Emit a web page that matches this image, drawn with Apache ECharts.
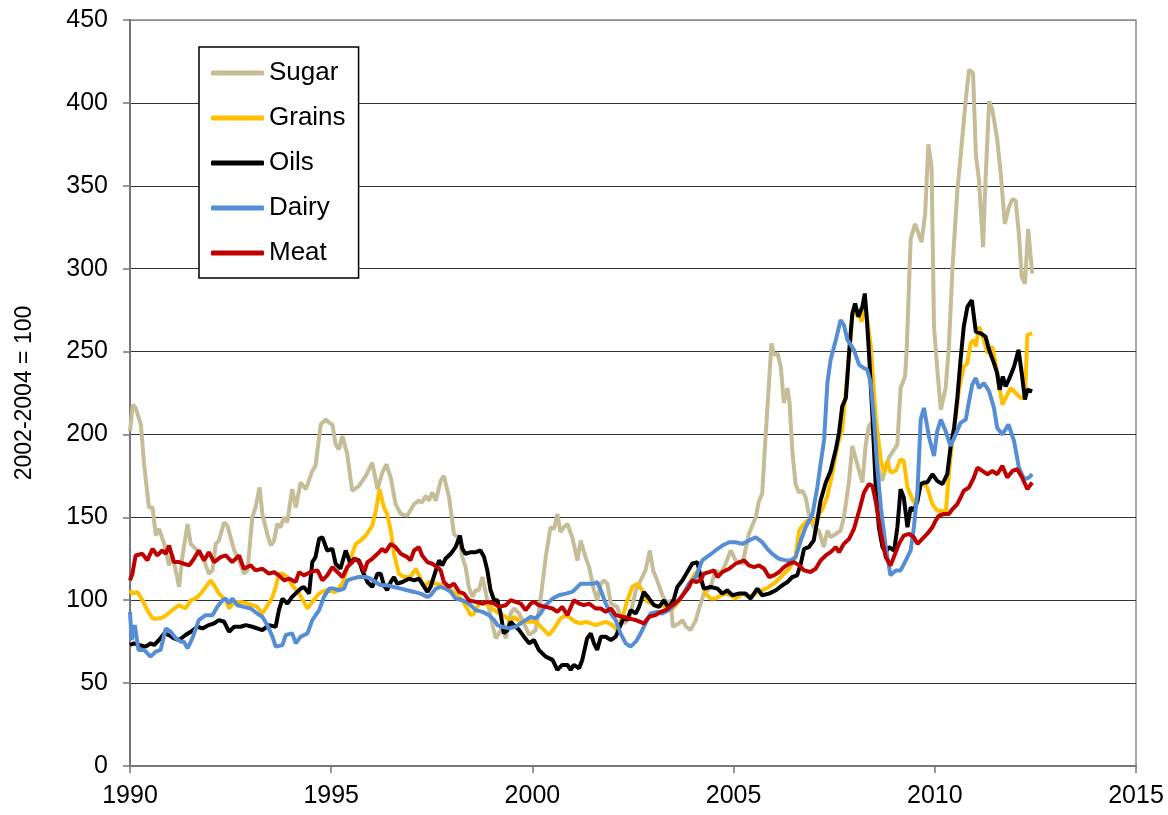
<!DOCTYPE html>
<html>
<head>
<meta charset="utf-8">
<script src="https://cdn.jsdelivr.net/npm/echarts@6/dist/echarts.min.js"></script>
<style>
  html, body { margin: 0; padding: 0; background: #fff; }
  #chart { width: 1168px; height: 815px; }
</style>
</head>
<body>
<div id="chart"></div>
<script>
// FAO commodity price indices, 2002-2004 = 100 ([year, index])
var names = ['Sugar', 'Grains', 'Oils', 'Dairy', 'Meat']
var colors = ['#C4BD97', '#FFC000', '#000000', '#558ED5', '#C00000']

var sugar = [
    [1990.0,202],[1990.07,218],[1990.14,216],[1990.27,206],[1990.35,182],[1990.47,156],[1990.56,156],[1990.64,139],
    [1990.72,143],[1990.85,134],[1990.97,121],[1991.05,128],[1991.22,108],[1991.30,126],[1991.43,146],[1991.51,134],
    [1991.71,129],[1991.84,124],[1991.96,116],[1992.05,118],[1992.13,134],[1992.21,136],[1992.34,147],[1992.42,145],
    [1992.59,130],[1992.71,124],[1992.83,116],[1992.92,118],[1993.04,150],[1993.12,156],[1993.22,168],[1993.29,152],
    [1993.41,140],[1993.50,133],[1993.58,136],[1993.66,146],[1993.74,144],[1993.83,150],[1993.91,147],[1994.03,167],
    [1994.12,156],[1994.24,171],[1994.37,167],[1994.53,178],[1994.61,181],[1994.74,206],[1994.86,209],[1994.95,207],
    [1995.03,206],[1995.11,194],[1995.19,191],[1995.28,199],[1995.40,188],[1995.52,166],[1995.69,169],[1995.86,175],
    [1996.02,183],[1996.15,167],[1996.27,177],[1996.37,182],[1996.48,174],[1996.60,158],[1996.73,152],[1996.89,151],
    [1997.06,158],[1997.18,160],[1997.26,159],[1997.35,163],[1997.43,160],[1997.51,165],[1997.60,160],[1997.72,172],
    [1997.80,175],[1997.93,162],[1998.05,140],[1998.18,137],[1998.26,126],[1998.34,120],[1998.42,108],[1998.51,102],
    [1998.59,106],[1998.67,106],[1998.76,114],[1998.88,100],[1999.00,86],[1999.09,77],[1999.17,80],[1999.25,84],
    [1999.34,77],[1999.46,92],[1999.54,95],[1999.67,92],[1999.79,86],[1999.92,79],[2000.08,82],[2000.20,100],
    [2000.33,126],[2000.45,144],[2000.54,143],[2000.62,152],[2000.70,141],[2000.78,144],[2000.87,146],[2000.99,138],
    [2001.12,124],[2001.20,136],[2001.32,126],[2001.41,120],[2001.53,106],[2001.61,100],[2001.70,110],[2001.78,112],
    [2001.86,110],[2001.95,98],[2002.03,97],[2002.11,96],[2002.19,90],[2002.28,86],[2002.36,88],[2002.44,92],
    [2002.57,106],[2002.69,112],[2002.81,118],[2002.92,130],[2003.00,118],[2003.10,112],[2003.23,103],[2003.35,98],
    [2003.44,100],[2003.49,84],[2003.64,86],[2003.73,88],[2003.82,84],[2003.93,82],[2004.06,88],[2004.18,98],
    [2004.26,104],[2004.43,108],[2004.55,118],[2004.68,116],[2004.80,122],[2004.93,130],[2005.05,124],[2005.22,122],
    [2005.38,140],[2005.55,150],[2005.63,160],[2005.71,164],[2005.80,201],[2005.88,231],[2005.94,255],[2006.00,248],
    [2006.09,249],[2006.17,241],[2006.25,219],[2006.34,228],[2006.39,219],[2006.46,190],[2006.54,170],[2006.62,165],
    [2006.71,166],[2006.79,162],[2006.87,152],[2006.99,144],[2007.12,142],[2007.24,132],[2007.33,142],[2007.41,138],
    [2007.54,140],[2007.66,142],[2007.74,150],[2007.87,172],[2007.95,193],[2008.03,186],[2008.12,178],[2008.20,171],
    [2008.28,193],[2008.36,205],[2008.43,207],[2008.49,195],[2008.61,178],[2008.69,172],[2008.78,180],[2008.86,186],
    [2008.94,189],[2009.07,194],[2009.15,228],[2009.26,235],[2009.30,250],[2009.40,318],[2009.51,327],[2009.67,316],
    [2009.76,333],[2009.84,375],[2009.92,361],[2009.98,265],[2010.06,240],[2010.15,215],[2010.27,228],[2010.35,253],
    [2010.44,301],[2010.56,347],[2010.68,378],[2010.77,402],[2010.85,420],[2010.95,418],[2011.02,369],[2011.10,353],
    [2011.20,313],[2011.26,353],[2011.35,401],[2011.43,396],[2011.55,378],[2011.64,357],[2011.74,327],[2011.84,337],
    [2011.93,342],[2012.01,341],[2012.09,321],[2012.16,295],[2012.24,291],[2012.32,324],[2012.42,297]
]

var grains = [
    [1990.0,106],[1990.06,104],[1990.18,105],[1990.31,100],[1990.43,94],[1990.56,89],[1990.72,89],[1990.85,90],
    [1991.05,94],[1991.22,97],[1991.38,95],[1991.51,100],[1991.63,101],[1991.76,104],[1991.88,108],[1992.01,112],
    [1992.09,109],[1992.21,104],[1992.38,100],[1992.46,95],[1992.59,99],[1992.75,99],[1992.92,98],[1993.04,97],
    [1993.16,96],[1993.29,92],[1993.37,95],[1993.54,102],[1993.62,108],[1993.70,116],[1993.79,116],[1993.91,114],
    [1994.03,109],[1994.20,104],[1994.32,99],[1994.41,95],[1994.53,99],[1994.70,104],[1994.86,106],[1995.11,105],
    [1995.28,110],[1995.44,122],[1995.61,134],[1995.73,136],[1995.86,139],[1996.02,145],[1996.11,154],[1996.20,167],
    [1996.31,156],[1996.39,152],[1996.48,142],[1996.56,128],[1996.68,116],[1996.81,114],[1996.97,114],[1997.10,119],
    [1997.18,115],[1997.31,108],[1997.43,111],[1997.60,110],[1997.76,109],[1997.93,107],[1998.09,104],[1998.26,100],
    [1998.38,95],[1998.47,91],[1998.55,92],[1998.67,98],[1998.84,98],[1999.00,95],[1999.17,92],[1999.34,90],
    [1999.46,87],[1999.54,90],[1999.71,87],[1999.87,87],[2000.08,87],[2000.25,83],[2000.41,79],[2000.54,83],
    [2000.70,89],[2000.83,91],[2000.95,89],[2001.07,87],[2001.20,86],[2001.32,87],[2001.45,86],[2001.57,85],
    [2001.70,86],[2001.82,87],[2001.99,85],[2002.11,82],[2002.24,90],[2002.36,100],[2002.48,108],[2002.61,110],
    [2002.73,106],[2002.86,99],[2002.98,98],[2003.10,96],[2003.23,97],[2003.35,95],[2003.48,95],[2003.60,98],
    [2003.73,103],[2003.85,108],[2003.97,113],[2004.06,117],[2004.14,114],[2004.22,110],[2004.30,104],[2004.43,101],
    [2004.55,101],[2004.68,103],[2004.80,104],[2004.93,103],[2005.05,101],[2005.22,104],[2005.38,102],[2005.55,104],
    [2005.71,106],[2005.88,108],[2006.05,111],[2006.21,115],[2006.38,119],[2006.54,126],[2006.63,142],[2006.71,145],
    [2006.83,148],[2006.96,147],[2007.08,150],[2007.21,155],[2007.33,163],[2007.45,176],[2007.58,193],[2007.70,203],
    [2007.83,237],[2007.95,271],[2008.08,275],[2008.18,268],[2008.28,277],[2008.41,253],[2008.53,211],[2008.66,184],
    [2008.74,177],[2008.82,184],[2008.90,177],[2009.03,178],[2009.15,185],[2009.23,184],[2009.32,168],[2009.44,161],
    [2009.52,158],[2009.61,170],[2009.69,171],[2009.81,168],[2009.94,158],[2010.06,154],[2010.19,154],[2010.27,152],
    [2010.35,176],[2010.44,198],[2010.52,210],[2010.60,227],[2010.72,241],[2010.81,243],[2010.89,255],[2010.97,257],
    [2011.02,253],[2011.10,265],[2011.18,260],[2011.31,249],[2011.43,253],[2011.51,243],[2011.59,231],[2011.68,218],
    [2011.76,222],[2011.89,228],[2012.01,225],[2012.13,222],[2012.24,222],[2012.30,260],[2012.42,261]
]

var oils = [
    [1990.0,73],[1990.10,74],[1990.22,73],[1990.39,72],[1990.51,74],[1990.60,73],[1990.72,76],[1990.85,80],
    [1990.97,79],[1991.09,77],[1991.22,76],[1991.38,79],[1991.51,81],[1991.67,84],[1991.80,83],[1991.96,85],
    [1992.09,86],[1992.21,88],[1992.34,87],[1992.46,81],[1992.59,84],[1992.75,84],[1992.88,85],[1993.04,84],
    [1993.29,82],[1993.45,85],[1993.62,84],[1993.70,94],[1993.79,101],[1993.91,98],[1994.03,102],[1994.24,107],
    [1994.32,108],[1994.45,104],[1994.53,123],[1994.61,126],[1994.70,137],[1994.78,138],[1994.90,130],[1995.03,131],
    [1995.11,122],[1995.23,119],[1995.36,130],[1995.48,122],[1995.57,125],[1995.69,124],[1995.77,118],[1995.90,111],
    [1996.02,108],[1996.15,116],[1996.23,116],[1996.31,109],[1996.39,106],[1996.48,111],[1996.56,114],[1996.64,110],
    [1996.77,111],[1996.93,113],[1997.06,112],[1997.18,113],[1997.26,110],[1997.39,105],[1997.47,108],[1997.60,118],
    [1997.68,124],[1997.76,121],[1997.84,125],[1997.97,128],[1998.09,132],[1998.20,139],[1998.26,131],[1998.34,128],
    [1998.47,129],[1998.59,129],[1998.71,130],[1998.80,126],[1998.88,118],[1998.96,106],[1999.05,100],[1999.13,100],
    [1999.21,92],[1999.29,80],[1999.38,82],[1999.46,87],[1999.54,85],[1999.67,82],[1999.79,78],[1999.92,74],
    [2000.04,76],[2000.16,70],[2000.33,66],[2000.50,64],[2000.62,58],[2000.74,61],[2000.87,61],[2000.95,58],
    [2001.03,61],[2001.16,59],[2001.24,64],[2001.36,77],[2001.45,80],[2001.53,74],[2001.61,70],[2001.70,78],
    [2001.82,78],[2001.95,76],[2002.07,78],[2002.19,85],[2002.28,90],[2002.36,88],[2002.44,94],[2002.57,92],
    [2002.65,96],[2002.77,105],[2002.90,101],[2003.02,97],[2003.15,96],[2003.27,100],[2003.39,95],[2003.52,101],
    [2003.60,108],[2003.73,112],[2003.85,117],[2003.97,122],[2004.10,123],[2004.18,114],[2004.26,107],[2004.43,108],
    [2004.60,107],[2004.72,104],[2004.84,106],[2004.97,103],[2005.13,104],[2005.30,104],[2005.42,101],[2005.59,107],
    [2005.71,103],[2005.88,104],[2006.05,106],[2006.21,109],[2006.34,111],[2006.46,114],[2006.58,115],[2006.67,122],
    [2006.75,131],[2006.87,132],[2006.99,136],[2007.08,148],[2007.16,160],[2007.29,171],[2007.41,178],[2007.54,191],
    [2007.62,201],[2007.70,217],[2007.79,222],[2007.87,249],[2007.95,273],[2008.02,279],[2008.10,271],[2008.20,277],
    [2008.26,285],[2008.31,270],[2008.36,251],[2008.45,211],[2008.53,170],[2008.61,144],[2008.70,132],[2008.78,129],
    [2008.86,132],[2008.99,130],[2009.07,144],[2009.15,167],[2009.23,162],[2009.32,144],[2009.40,156],[2009.48,154],
    [2009.57,160],[2009.65,170],[2009.73,171],[2009.81,171],[2009.94,176],[2010.06,172],[2010.19,170],[2010.31,176],
    [2010.39,192],[2010.48,204],[2010.56,222],[2010.64,245],[2010.72,265],[2010.81,277],[2010.92,281],[2011.02,262],
    [2011.14,261],[2011.26,259],[2011.35,251],[2011.47,243],[2011.55,237],[2011.61,227],[2011.69,235],[2011.76,229],
    [2011.84,233],[2011.97,241],[2012.08,251],[2012.16,237],[2012.24,221],[2012.30,227],[2012.42,226]
]

var dairy = [
    [1990.0,93],[1990.04,76],[1990.12,85],[1990.21,70],[1990.35,70],[1990.51,66],[1990.64,69],[1990.76,70],
    [1990.89,83],[1991.01,81],[1991.14,77],[1991.26,75],[1991.34,75],[1991.43,71],[1991.55,77],[1991.71,88],
    [1991.88,91],[1992.05,91],[1992.17,96],[1992.30,100],[1992.38,101],[1992.46,98],[1992.54,101],[1992.67,97],
    [1992.83,96],[1993.00,95],[1993.16,92],[1993.29,90],[1993.41,85],[1993.54,78],[1993.62,72],[1993.79,73],
    [1993.87,79],[1994.03,80],[1994.12,74],[1994.24,78],[1994.41,80],[1994.53,88],[1994.70,94],[1994.82,102],
    [1994.95,107],[1995.07,107],[1995.19,106],[1995.32,107],[1995.40,112],[1995.52,113],[1995.69,114],[1995.86,114],
    [1995.98,113],[1996.10,111],[1996.23,109],[1996.39,109],[1996.56,108],[1996.73,107],[1996.89,106],[1997.06,105],
    [1997.22,104],[1997.39,102],[1997.47,103],[1997.60,107],[1997.72,108],[1997.84,107],[1997.97,105],[1998.09,101],
    [1998.26,100],[1998.42,98],[1998.59,94],[1998.76,93],[1998.92,91],[1999.05,88],[1999.13,85],[1999.25,84],
    [1999.42,83],[1999.58,84],[1999.71,86],[1999.83,88],[1999.96,90],[2000.08,89],[2000.20,92],[2000.33,97],
    [2000.50,101],[2000.66,103],[2000.83,104],[2000.99,105],[2001.12,108],[2001.20,110],[2001.36,110],[2001.53,110],
    [2001.61,111],[2001.70,106],[2001.82,98],[2001.95,92],[2002.07,88],[2002.19,80],[2002.32,74],[2002.44,72],
    [2002.57,75],[2002.69,80],[2002.81,86],[2002.94,92],[2003.10,93],[2003.23,92],[2003.39,94],[2003.56,98],
    [2003.73,103],[2003.89,110],[2004.06,114],[2004.22,124],[2004.39,127],[2004.55,130],[2004.72,133],[2004.89,135],
    [2005.05,135],[2005.22,134],[2005.38,136],[2005.55,138],[2005.71,135],[2005.84,131],[2005.96,128],[2006.13,125],
    [2006.29,124],[2006.42,124],[2006.54,126],[2006.67,136],[2006.79,144],[2006.96,152],[2007.08,168],[2007.16,182],
    [2007.25,197],[2007.33,231],[2007.41,245],[2007.54,257],[2007.66,269],[2007.74,266],[2007.83,257],[2007.99,251],
    [2008.12,242],[2008.24,240],[2008.32,239],[2008.41,231],[2008.49,209],[2008.57,180],[2008.66,156],[2008.78,132],
    [2008.90,115],[2009.03,118],[2009.15,118],[2009.28,124],[2009.40,130],[2009.48,144],[2009.57,166],[2009.65,209],
    [2009.73,216],[2009.86,198],[2009.98,187],[2010.06,202],[2010.15,209],[2010.27,202],[2010.39,193],[2010.52,200],
    [2010.64,207],[2010.77,209],[2010.85,220],[2010.93,230],[2011.02,234],[2011.10,228],[2011.22,231],[2011.35,226],
    [2011.47,216],[2011.55,204],[2011.68,200],[2011.83,206],[2011.97,196],[2012.09,180],[2012.22,173],[2012.34,174],
    [2012.42,176]
]

var meat = [
    [1990.0,112],[1990.06,116],[1990.14,127],[1990.31,128],[1990.43,124],[1990.56,131],[1990.68,127],[1990.80,130],
    [1990.89,128],[1990.97,133],[1991.09,123],[1991.22,123],[1991.34,122],[1991.47,121],[1991.59,125],[1991.71,130],
    [1991.84,124],[1991.96,129],[1992.09,123],[1992.25,126],[1992.38,127],[1992.54,123],[1992.71,127],[1992.83,119],
    [1993.00,121],[1993.12,118],[1993.29,119],[1993.45,116],[1993.58,117],[1993.70,115],[1993.83,112],[1993.95,113],
    [1994.12,111],[1994.20,117],[1994.32,115],[1994.49,117],[1994.66,118],[1994.78,112],[1994.90,115],[1995.03,120],
    [1995.11,118],[1995.28,114],[1995.40,120],[1995.52,123],[1995.61,125],[1995.73,122],[1995.82,117],[1995.90,123],
    [1996.02,125],[1996.15,128],[1996.27,131],[1996.35,129],[1996.48,134],[1996.60,132],[1996.73,128],[1996.89,126],
    [1996.97,124],[1997.06,130],[1997.18,132],[1997.26,127],[1997.39,123],[1997.51,122],[1997.64,120],[1997.72,118],
    [1997.80,111],[1997.93,108],[1998.05,110],[1998.18,105],[1998.30,104],[1998.42,100],[1998.59,99],[1998.76,98],
    [1998.88,99],[1999.05,98],[1999.17,96],[1999.34,97],[1999.46,100],[1999.58,99],[1999.71,98],[1999.83,94],
    [1999.96,98],[2000.04,99],[2000.16,97],[2000.33,96],[2000.50,95],[2000.62,93],[2000.74,96],[2000.87,91],
    [2001.03,100],[2001.16,98],[2001.28,97],[2001.41,98],[2001.57,95],[2001.70,95],[2001.82,93],[2001.95,95],
    [2002.07,91],[2002.24,90],[2002.40,89],[2002.57,88],[2002.77,86],[2002.90,90],[2003.06,91],[2003.19,93],
    [2003.31,94],[2003.48,97],[2003.64,100],[2003.77,104],[2003.89,108],[2003.97,112],[2004.06,111],[2004.18,112],
    [2004.26,116],[2004.39,117],[2004.51,118],[2004.60,114],[2004.72,117],[2004.89,119],[2005.05,122],[2005.26,124],
    [2005.38,121],[2005.51,120],[2005.63,121],[2005.76,119],[2005.88,114],[2006.00,115],[2006.13,117],[2006.25,120],
    [2006.38,122],[2006.50,123],[2006.63,121],[2006.75,118],[2006.91,117],[2007.04,119],[2007.16,124],[2007.29,127],
    [2007.41,129],[2007.54,132],[2007.62,129],[2007.74,134],[2007.87,137],[2007.99,143],[2008.12,154],[2008.24,165],
    [2008.36,170],[2008.45,169],[2008.53,160],[2008.66,140],[2008.78,126],[2008.90,121],[2009.11,134],[2009.23,139],
    [2009.36,140],[2009.48,138],[2009.57,134],[2009.69,137],[2009.81,140],[2009.94,144],[2010.02,148],[2010.10,151],
    [2010.23,152],[2010.35,152],[2010.44,155],[2010.56,158],[2010.72,166],[2010.85,168],[2010.97,174],[2011.06,180],
    [2011.18,178],[2011.31,176],[2011.43,178],[2011.55,176],[2011.68,181],[2011.80,174],[2011.93,178],[2012.05,179],
    [2012.17,174],[2012.30,167],[2012.42,171]
]

var xTicks = [1990, 2015, 5]   // min, max, step
var yTicks = [0, 450, 50]
var yName = '2002-2004 = 100'

var allData = [sugar, grains, oils, dairy, meat]
var font = 'Liberation Sans, Arial, sans-serif'

var series = []
for (var i = 0; i < names.length; i++) {
    series.push({
        name: names[i],
        type: 'line',
        data: allData[i],
        showSymbol: false,
        symbol: 'none',
        lineStyle: { width: 4, color: colors[i] },
        itemStyle: { color: colors[i] },
        z: 2 + i
    })
}

var option = {
    animation: false,
    backgroundColor: '#fff',
    textStyle: { fontFamily: font },
    grid: {
        left: 130,
        right: 32,
        top: 20,
        bottom: 49,
        show: true,
        borderColor: '#8c8c8c',
        borderWidth: 1.5
    },
    legend: {
        data: names,
        orient: 'vertical',
        left: 199,
        top: 47,
        padding: [13, 13, 12, 12],
        itemGap: 19,
        itemWidth: 53,
        itemHeight: 5,
        icon: 'roundRect',
        backgroundColor: '#fff',
        borderColor: '#000',
        borderWidth: 1.5,
        textStyle: { fontSize: 26, color: '#000', fontFamily: font }
    },
    xAxis: {
        type: 'value',
        min: xTicks[0],
        max: xTicks[1],
        interval: xTicks[2],
        axisLine: { lineStyle: { color: '#777', width: 2 } },
        axisTick: { show: true, length: 7, lineStyle: { color: '#777', width: 1.5 } },
        axisLabel: {
            fontSize: 25, color: '#000', margin: 18, fontFamily: font,
            formatter: function (v) { return String(v) }
        },
        splitLine: { show: false }
    },
    yAxis: {
        type: 'value',
        min: yTicks[0],
        max: yTicks[1],
        interval: yTicks[2],
        name: yName,
        nameLocation: 'middle',
        nameGap: 94,
        nameTextStyle: { fontSize: 23, color: '#000', fontFamily: font },
        axisLine: { show: true, lineStyle: { color: '#777', width: 2 } },
        axisTick: { show: true, length: 7, lineStyle: { color: '#777', width: 1.5 } },
        axisLabel: { fontSize: 25, color: '#000', margin: 22, fontFamily: font },
        splitLine: {
            show: true,
            lineStyle: {
                color: ['#777', '#333', '#333', '#333', '#333', '#333', '#333', '#333', '#333', '#8c8c8c'],
                width: 1
            }
        }
    },
    series: series
}

var myChart = echarts.init(document.getElementById('chart'))
myChart.setOption(option)
</script>
</body>
</html>
